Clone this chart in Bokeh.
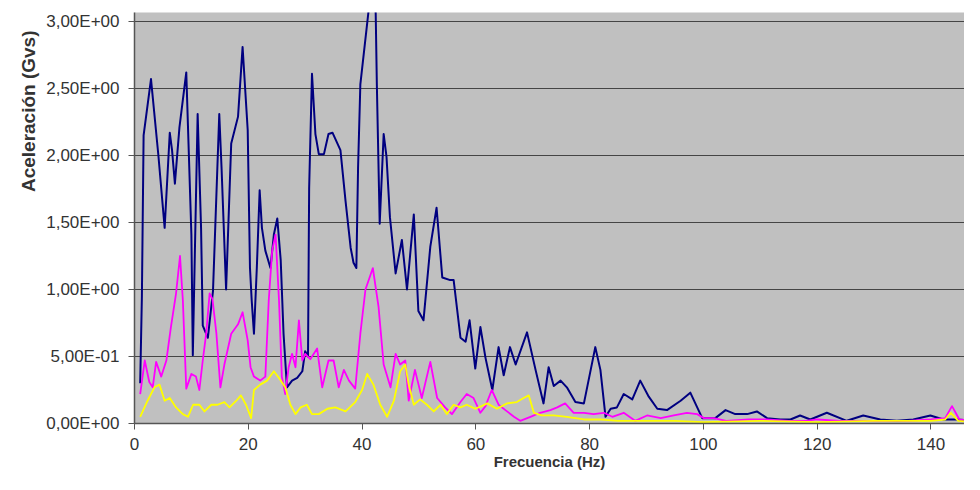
from bokeh.plotting import figure
from bokeh.models import Range1d, FixedTicker, Title
from bokeh.embed import file_html
from bokeh.resources import INLINE

# ---- data ----
navy_f = [1.0, 1.3, 1.6, 2.9, 4.2, 5.3, 6.2, 6.6, 7.1, 7.9, 9.1, 10.0, 10.25, 11.1, 11.7, 12.0,
          12.9, 13.8, 14.9, 15.3, 16.1, 17.0, 18.2, 19.0, 19.9, 20.3, 20.6, 21.0, 21.5, 22.0,
          22.4, 23.0, 23.9, 24.5, 25.1, 25.7, 26.2, 26.8, 27.7, 28.6, 29.5, 30.0, 30.5, 30.7,
          31.2, 31.8, 32.4, 33.3, 34.1, 34.8, 36.2, 37.1, 38.0, 38.5, 39.0, 39.3, 39.7, 41.2,
          41.8, 42.4, 42.6, 43.1, 43.8, 44.3, 44.9, 45.9, 47.0, 47.9, 49.1, 49.9, 50.8, 52.0,
          53.1, 54.1, 55.5, 56.1, 57.3, 58.2, 58.9, 59.9, 60.8, 61.7, 62.9, 64.0, 64.9, 66.0,
          67.0, 69.0, 70.5, 71.9, 72.8, 73.7, 74.9, 76.0, 77.5, 79.0, 81.0, 81.9, 82.8, 83.7,
          84.8, 86.0, 87.5, 88.9, 90.4, 91.9, 93.6, 96.0, 97.7, 99.8, 102.1, 103.9, 105.6,
          107.7, 109.4, 111.2, 113.5, 115.3, 117.0, 118.8, 121.7, 125.2, 128.1, 131.1, 134.0,
          136.9, 139.9, 142.2, 144.5, 147.3]
navy_v = [0.30, 0.95, 2.15, 2.57, 2.00, 1.46, 2.17, 2.04, 1.79, 2.21, 2.62, 1.41, 0.51, 2.31, 1.46, 0.73,
          0.64, 0.99, 2.31, 1.91, 1.00, 2.09, 2.29, 2.81, 2.19, 1.16, 0.92, 0.67, 1.16, 1.74,
          1.46, 1.29, 1.16, 1.41, 1.53, 1.22, 0.67, 0.27, 0.32, 0.34, 0.39, 0.54, 0.50, 1.76,
          2.61, 2.16, 2.01, 2.01, 2.16, 2.17, 2.04, 1.66, 1.31, 1.20, 1.16, 1.91, 2.53, 3.10,
          3.50, 3.06, 2.53, 1.49, 2.16, 1.99, 1.54, 1.12, 1.37, 1.00, 1.56, 0.84, 0.77, 1.32,
          1.61, 1.09, 1.07, 1.07, 0.64, 0.61, 0.77, 0.41, 0.72, 0.49, 0.25, 0.57, 0.36, 0.57,
          0.44, 0.68, 0.40, 0.15, 0.42, 0.28, 0.32, 0.27, 0.16, 0.15, 0.57, 0.40, 0.05, 0.11,
          0.12, 0.22, 0.18, 0.32, 0.20, 0.11, 0.10, 0.17, 0.23, 0.04, 0.04, 0.10, 0.07,
          0.07, 0.09, 0.04, 0.03, 0.03, 0.06, 0.03, 0.08, 0.02, 0.06, 0.03, 0.02,
          0.03, 0.06, 0.03, 0.03, 0.02]

magenta_f = [1.0, 1.8, 2.6, 3.2, 3.8, 4.7, 5.6, 6.4, 7.3, 8.0, 8.5, 9.1, 10.0, 10.8, 11.4, 12.0,
             12.6, 13.2, 13.7, 14.4, 15.1, 15.8, 17.0, 18.2, 19.0, 19.9, 20.4, 21.0, 22.1, 23.0,
             23.6, 24.2, 24.8, 25.4, 25.9, 26.5, 27.1, 27.7, 28.3, 28.9, 29.5, 30.0, 30.9, 32.1,
             33.0, 34.1, 35.0, 35.9, 36.8, 37.7, 38.8, 39.7, 40.6, 41.9, 42.9, 43.8, 45.0, 45.9,
             46.7, 47.6, 48.2, 49.3, 50.5, 52.0, 53.2, 54.6, 55.8, 57.3, 58.4, 59.6, 60.8, 61.7,
             62.8, 64.0, 65.2, 66.7, 67.8, 69.6, 71.3, 73.1, 74.3, 75.7, 77.2, 79.0, 80.7, 82.5,
             84.0, 86.0, 88.0, 90.1, 92.5, 94.8, 97.1, 98.9, 100.1, 101.8, 104.0, 108.0, 111.0,
             115.0, 118.0, 120.0, 124.0, 128.0, 132.0, 136.0, 140.0, 142.5, 143.7, 145.0, 147.3]
magenta_v = [0.22, 0.47, 0.31, 0.27, 0.46, 0.35, 0.47, 0.72, 0.97, 1.25, 0.92, 0.26, 0.37, 0.35, 0.25, 0.47,
             0.67, 0.97, 0.93, 0.67, 0.27, 0.44, 0.67, 0.74, 0.83, 0.62, 0.42, 0.35, 0.32, 0.35,
             0.92, 1.29, 1.41, 0.92, 0.35, 0.22, 0.42, 0.52, 0.42, 0.77, 0.47, 0.52, 0.48, 0.56,
             0.27, 0.47, 0.47, 0.27, 0.40, 0.32, 0.26, 0.67, 1.00, 1.16, 0.87, 0.44, 0.27, 0.52,
             0.44, 0.47, 0.17, 0.40, 0.19, 0.46, 0.19, 0.12, 0.07, 0.16, 0.22, 0.19, 0.08, 0.13,
             0.25, 0.14, 0.10, 0.05, 0.02, 0.05, 0.08, 0.10, 0.12, 0.15, 0.08, 0.08, 0.07, 0.08,
             0.05, 0.08, 0.02, 0.06, 0.04, 0.06, 0.08, 0.07, 0.04, 0.04, 0.02, 0.03, 0.03,
             0.02, 0.02, 0.03, 0.02, 0.02, 0.02, 0.02, 0.03, 0.04, 0.13, 0.03, 0.02]

yellow_f = [1.0, 2.3, 3.5, 4.4, 5.3, 6.2, 7.3, 8.5, 9.4, 10.3, 11.4, 12.3, 13.5, 14.6, 15.8, 16.7,
            17.9, 18.7, 19.6, 20.5, 21.0, 22.1, 23.3, 24.5, 25.4, 26.5, 27.4, 28.3, 29.2, 30.3,
            31.2, 32.4, 33.9, 35.3, 37.1, 38.8, 40.0, 40.9, 42.0, 43.2, 44.4, 45.6, 46.7, 47.6,
            48.2, 49.1, 50.2, 51.4, 52.6, 53.8, 54.9, 56.1, 57.3, 58.4, 59.9, 61.0, 62.0, 63.7,
            65.5, 67.2, 68.4, 69.3, 70.2, 71.6, 73.7, 76.0, 79.0, 82.0, 85.0, 90.0, 95.0, 100.0,
            110.0, 120.0, 130.0, 140.0, 142.5, 143.5, 144.8, 147.3]
yellow_v = [0.05, 0.17, 0.27, 0.29, 0.17, 0.19, 0.12, 0.07, 0.05, 0.14, 0.14, 0.09, 0.14, 0.14, 0.16, 0.12,
            0.17, 0.21, 0.14, 0.04, 0.25, 0.29, 0.32, 0.39, 0.34, 0.27, 0.14, 0.07, 0.12, 0.14,
            0.07, 0.07, 0.11, 0.12, 0.09, 0.16, 0.25, 0.37, 0.29, 0.14, 0.05, 0.17, 0.39, 0.44,
            0.29, 0.14, 0.18, 0.14, 0.09, 0.14, 0.07, 0.14, 0.12, 0.14, 0.11, 0.13, 0.15, 0.11,
            0.15, 0.16, 0.19, 0.21, 0.08, 0.06, 0.06, 0.05, 0.03, 0.03, 0.02, 0.02, 0.02, 0.01,
            0.02, 0.01, 0.02, 0.02, 0.03, 0.08, 0.02, 0.01]

x_ticks = [0, 20, 40, 60, 80, 100, 120, 140]
y_ticks = [0.0, 0.5, 1.0, 1.5, 2.0, 2.5, 3.0]
y_tick_labels = ["0,00E+00", "5,00E-01", "1,00E+00", "1,50E+00", "2,00E+00", "2,50E+00", "3,00E+00"]
x_title = "Frecuencia (Hz)"
y_title = "Aceleración (Gvs)"

FONT = "Liberation Sans"

p = figure(width=964, height=474, output_backend="svg", toolbar_location=None,
           x_range=Range1d(0, 145.9), y_range=Range1d(0, 3.067),
           min_border_left=134, min_border_right=0, min_border_top=12, min_border_bottom=51)

p.background_fill_color = "#c0c0c0"
p.border_fill_color = "white"
p.outline_line_color = None

p.xgrid.visible = False
p.ygrid.ticker = FixedTicker(ticks=y_ticks)
p.ygrid.grid_line_color = "#454545"
p.ygrid.grid_line_width = 1

p.xaxis.ticker = FixedTicker(ticks=x_ticks)
p.yaxis.ticker = FixedTicker(ticks=y_ticks)
p.yaxis.major_label_overrides = {t: l for t, l in zip(y_ticks, y_tick_labels)}

for ax in (p.xaxis, p.yaxis):
    ax.axis_line_color = "#555555"
    ax.axis_line_width = 1.5
    ax.major_tick_line_color = "#555555"
    ax.major_tick_in = 0
    ax.major_tick_out = 6
    ax.minor_tick_line_color = None
    ax.major_label_text_font = FONT
    ax.major_label_text_font_size = "17px"
    ax.major_label_text_color = "#333333"

p.xaxis.major_label_standoff = 8
p.yaxis.major_label_standoff = 9

p.xaxis.axis_label = x_title
p.xaxis.axis_label_text_font = FONT
p.xaxis.axis_label_text_font_style = "bold"
p.xaxis.axis_label_text_font_size = "15px"
p.xaxis.axis_label_text_color = "#333333"
p.xaxis.axis_label_standoff = 0

p.line(navy_f, navy_v, line_color="#000080", line_width=2, line_join="round")
p.line(magenta_f, magenta_v, line_color="#ff00ff", line_width=1.8, line_join="round")
p.line(yellow_f, yellow_v, line_color="#ffff00", line_width=1.8, line_join="round")

p.add_layout(Title(text=y_title, align="right", offset=18, standoff=10,
                   text_font=FONT, text_font_style="bold", text_font_size="19px",
                   text_color="#333333"), "left")

open("out.html", "w").write(file_html(p, INLINE))
